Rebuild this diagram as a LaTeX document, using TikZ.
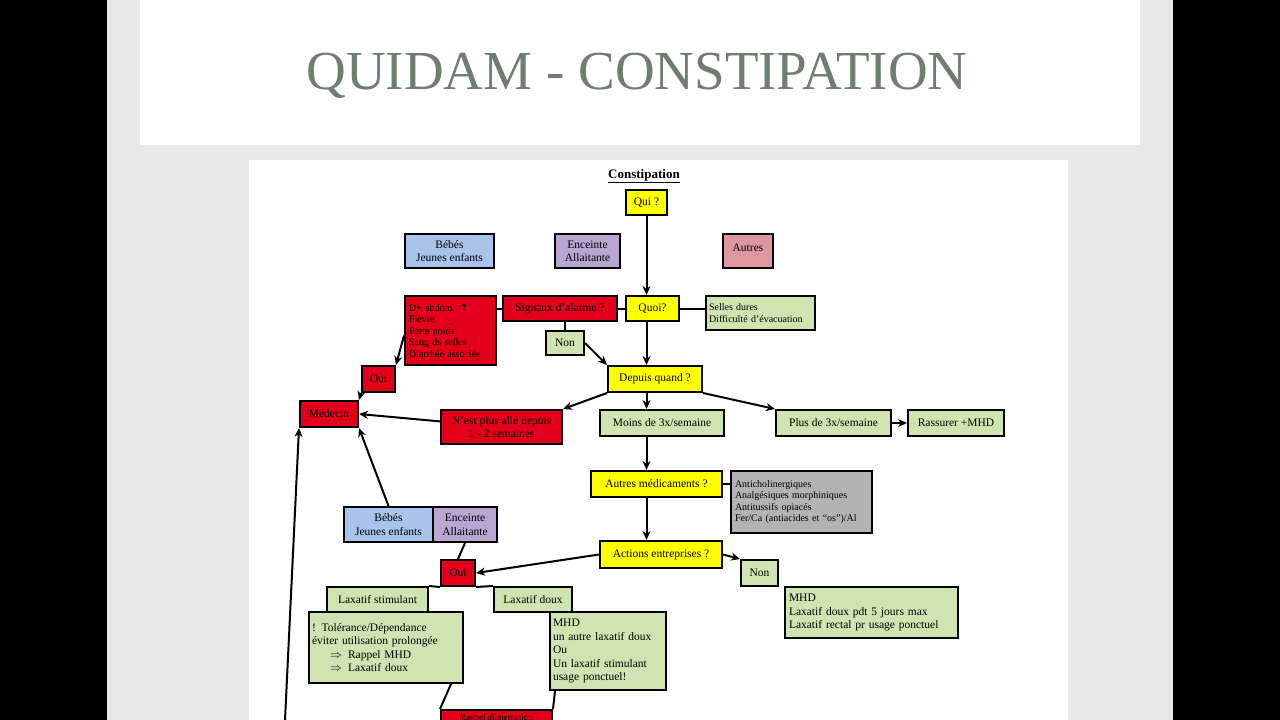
\documentclass[tikz,border=0pt]{standalone}
\usepackage{fontspec}
\setmainfont{Liberation Serif}
\newfontfamily\symf{DejaVu Sans}
\usetikzlibrary{arrows.meta}
\definecolor{titlec}{HTML}{6E7E70}
\definecolor{yel}{HTML}{FFFF00}
\definecolor{grn}{HTML}{D0E4B2}
\definecolor{rd}{HTML}{E2001A}
\definecolor{blu}{HTML}{A8C4EA}
\definecolor{pur}{HTML}{B9A7D2}
\definecolor{pnk}{HTML}{E0969F}
\definecolor{gry}{HTML}{B3B3B3}
\begin{document}
\begin{tikzpicture}[x=1pt,y=-1pt,
  bx/.style={draw=black,line width=2pt,inner sep=0pt,font=\fontsize{11.5}{13.5}\selectfont,align=center},
  lbx/.style={bx,align=left},
  ar/.style={line width=2pt,-{Stealth[length=9pt,width=8pt]}},
  ln/.style={line width=2pt}]
\useasboundingbox (0,0) rectangle (1280,720);
\fill[black] (0,0) rectangle (1280,720);
\fill[gray!18] (107,0) rectangle (1173,720);
\fill[white] (140,0) rectangle (1140,145);
\node[text=titlec,font=\fontsize{55}{55}\selectfont] (title) at (637,76) {QUIDAM - CONSTIPATION};
\fill[white] (249,160) rectangle (1068,720);
\begin{scope}
\clip (249,160) rectangle (1068,720);
\node[font=\bfseries\fontsize{13}{15}\selectfont] (head) at (644,176) {\underline{Constipation}};
\node[bx,fill=yel,minimum width=41,minimum height=25] (qui) at (646.5,202.5) {Qui ?};
\node[bx,fill=blu,minimum width=89,minimum height=34] (bb1) at (449.5,251) {Bébés\\Jeunes enfants};
\node[bx,fill=pur,minimum width=65,minimum height=34] (ea1) at (587.5,251) {Enceinte\\Allaitante};
\node[bx,fill=pnk,minimum width=50,minimum height=34] (aut) at (748,251) {\raisebox{6pt}{Autres}};
\node[lbx,fill=rd,minimum width=91,minimum height=69,font=\fontsize{10}{11.5}\selectfont,text width=83] (dab) at (450.5,330.5) {D+ abdom. {\symf\bfseries ↑}\\Fièvre\\Perte poids\\Sang ds selles\\Diarrhée associée\\[8pt]};
\node[bx,fill=rd,minimum width=114,minimum height=25] (sig) at (560,308.5) {Signaux d'alarme ?};
\node[bx,fill=yel,minimum width=53,minimum height=25] (quoi) at (652.5,308.5) {Quoi?};
\node[lbx,fill=grn,minimum width=109,minimum height=34,font=\fontsize{10}{11.5}\selectfont,text width=103] (sel) at (760.5,313) {Selles dures\\Difficulté d'évacuation\\[-2pt]};
\node[bx,fill=grn,minimum width=38,minimum height=24] (non1) at (565,343) {Non};
\node[bx,fill=yel,minimum width=94,minimum height=26] (dq) at (655,379) {Depuis quand ?};
\node[bx,fill=rd,minimum width=33,minimum height=26] (oui1) at (378.5,379) {Oui};
\node[bx,fill=rd,minimum width=58,minimum height=26] (med) at (329,414) {Médecin};
\node[bx,fill=rd,minimum width=121,minimum height=34] (nest) at (501.5,427) {N'est plus allé depuis\\1 - 2 semaines};
\node[bx,fill=grn,minimum width=124,minimum height=26] (moins) at (662,423) {Moins de 3x/semaine};
\node[bx,fill=grn,minimum width=115,minimum height=26] (plus) at (833.5,423) {Plus de 3x/semaine};
\node[bx,fill=grn,minimum width=96,minimum height=26] (ras) at (956,423) {Rassurer +MHD};
\node[bx,fill=yel,minimum width=131,minimum height=26] (amed) at (656.5,484) {Autres médicaments ?};
\node[lbx,fill=gry,minimum width=141,minimum height=62,font=\fontsize{10}{11.5}\selectfont,text width=133] (anti) at (801.5,502) {Anticholinergiques\\Analgésiques morphiniques\\Antitussifs opiacés\\Fer/Ca (antiacides et ``os'')/Al\\[3pt]};
\node[bx,fill=blu,minimum width=89,minimum height=35] (bb2) at (388.5,524.5) {Bébés\\Jeunes enfants};
\node[bx,fill=pur,minimum width=64,minimum height=35] (ea2) at (465,524.5) {Enceinte\\Allaitante};
\node[bx,fill=yel,minimum width=122,minimum height=27] (act) at (661,554.5) {Actions entreprises ?};
\node[bx,fill=rd,minimum width=34,minimum height=26] (oui2) at (458,573) {Oui};
\node[bx,fill=grn,minimum width=37,minimum height=26] (non2) at (759.5,573) {Non};
\node[lbx,fill=grn,minimum width=173,minimum height=51,text width=165] (mhd2) at (871.5,612.5) {MHD\\Laxatif doux pdt 5 jours max\\Laxatif rectal pr usage ponctuel};
\node[bx,fill=grn,minimum width=101,minimum height=25] (lst) at (377.5,599.5) {Laxatif stimulant};
\node[bx,fill=grn,minimum width=78,minimum height=25] (ldx) at (533,599.5) {Laxatif doux};
\node[lbx,fill=grn,minimum width=154,minimum height=71,text width=148] (tol) at (386,647.5) {! Tolérance/Dépendance\\éviter utilisation prolongée\\\hspace*{18pt}$\Rightarrow$\hspace{6pt}Rappel MHD\\\hspace*{18pt}$\Rightarrow$\hspace{6pt}Laxatif doux\\[2pt]};
\node[lbx,fill=grn,minimum width=116,minimum height=78,text width=110] (mhd1) at (608,651) {MHD\\un autre laxatif doux\\Ou\\Un laxatif stimulant\\usage ponctuel!};
\node[bx,fill=rd,minimum width=111,minimum height=16,font=\fontsize{9}{10}\selectfont] (rap) at (496.5,718) {Rappel alimentation};
\draw[ar] (qui.south) -- (qui.south|-quoi.north);
\draw[ln] (quoi) -- (sig);
\draw[ln] (sig.west) -- (dab.east|-sig.west);
\draw[ln] (quoi) -- (sel.west|-quoi);
\draw[ln] (non1.north|-sig.south) -- (non1.north);
\draw[ar] (non1.east) -- (dq.north west);
\draw[ar] (qui.south|-quoi.south) -- (qui.south|-dq.north);
\draw[ar] (dab.west) ++(0,5) -- (oui1.north east);
\draw[ar] (oui1.south west) -- (med.north east);
\draw[ar] (dq.south west) -- (nest.north east);
\draw[ar] (nest) -- (med.east);
\draw[ar] (qui.south|-dq.south) -- (qui.south|-moins.north);
\draw[ar] (dq.south east) -- (plus.north west);
\draw[ar] (plus) -- (ras);
\draw[ar] (qui.south|-moins.south) -- (qui.south|-amed.north);
\draw[ln] (amed) -- (anti.west|-amed);
\draw[ar] (qui.south|-amed.south) -- (qui.south|-act.north);
\draw[ar] (act.west) -- (oui2.east);
\draw[ar] (act.east) -- (non2.north west);
\draw[ar] (bb2.north) -- (med.south east);
\coordinate (low) at (285,720);
\draw[ar] (low) -- (med.south west);
\draw[ln] (ea2.south) -- (oui2.north);
\draw[ln] (oui2.south west) -- (lst.north east);
\draw[ln] (oui2.south east) -- (ldx.north west);
\draw[ln] (tol.south east) ++(-13,0) -- (rap.north west);
\draw[ln] (mhd1.south west) ++(6,0) -- (rap.north east);
\end{scope}
\end{tikzpicture}
\end{document}
